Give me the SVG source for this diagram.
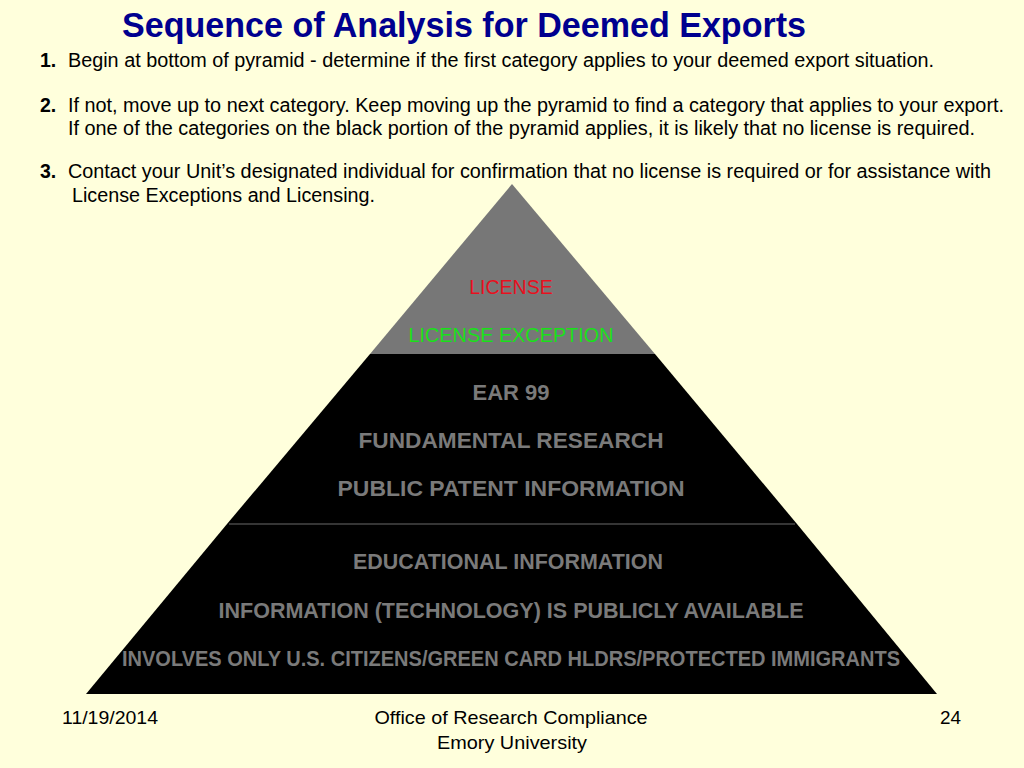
<svg xmlns="http://www.w3.org/2000/svg" width="1024" height="768" viewBox="0 0 1024 768">
<style>
text{font-family:"Liberation Sans",Arial,sans-serif}
.title{font-size:35px;font-weight:bold;fill:#00008f}
.body{font-size:19.5px;fill:#000}
.num{font-weight:bold}
.tier{font-size:22px;font-weight:bold;fill:#7a7a7a;text-anchor:middle}
.top{font-size:19.5px;text-anchor:middle}
.foot{font-size:19px;fill:#000}
</style>
<rect width="1024" height="768" fill="#ffffdc"/>
<g id="title">
<text class="title" x="122" y="37" textLength="684" lengthAdjust="spacingAndGlyphs">Sequence of Analysis for Deemed Exports</text>
</g>
<g id="instructions">
<text class="body" x="40" y="67"><tspan class="num">1.</tspan></text>
<text class="body" x="68" y="67" textLength="866" lengthAdjust="spacingAndGlyphs">Begin at bottom of pyramid - determine if the first category applies to your deemed export situation.</text>
<text class="body" x="40" y="112"><tspan class="num">2.</tspan></text>
<text class="body" x="68" y="112" textLength="936" lengthAdjust="spacingAndGlyphs">If not, move up to next category. Keep moving up the pyramid to find a category that applies to your export.</text>
<text class="body" x="68" y="135" textLength="907" lengthAdjust="spacingAndGlyphs">If one of the categories on the black portion of the pyramid applies, it is likely that no license is required.</text>
<text class="body" x="40" y="178"><tspan class="num">3.</tspan></text>
<text class="body" x="68" y="178" textLength="923" lengthAdjust="spacingAndGlyphs">Contact your Unit’s designated individual for confirmation that no license is required or for assistance with</text>
<text class="body" x="72" y="202" textLength="303" lengthAdjust="spacingAndGlyphs">License Exceptions and Licensing.</text>
</g>
<g id="pyramid-top">
<polygon points="512,184 370,354 655,354" fill="#777777"/>
<text class="top" x="511" y="294" fill="#e8101e">LICENSE</text>
<text class="top" x="511" y="342" fill="#19e019" textLength="205" lengthAdjust="spacingAndGlyphs">LICENSE EXCEPTION</text>
</g>
<g id="pyramid-middle">
<polygon points="370,354 655,354 797,524 227,524" fill="#000"/>
<text class="tier" x="511" y="400">EAR 99</text>
<text class="tier" x="511" y="448" textLength="305" lengthAdjust="spacingAndGlyphs">FUNDAMENTAL RESEARCH</text>
<text class="tier" x="511" y="496" textLength="347" lengthAdjust="spacingAndGlyphs">PUBLIC PATENT INFORMATION</text>
</g>
<g id="pyramid-bottom">
<polygon points="227,524 797,524 937,694 86,694" fill="#000"/>
<text class="tier" x="508" y="569" textLength="310" lengthAdjust="spacingAndGlyphs">EDUCATIONAL INFORMATION</text>
<text class="tier" x="511" y="618" textLength="585" lengthAdjust="spacingAndGlyphs">INFORMATION (TECHNOLOGY) IS PUBLICLY AVAILABLE</text>
<text class="tier" x="511" y="666" textLength="778" lengthAdjust="spacingAndGlyphs">INVOLVES ONLY U.S. CITIZENS/GREEN CARD HLDRS/PROTECTED IMMIGRANTS</text>
</g>
<g id="connectors">
<line x1="229" y1="524" x2="795" y2="524" stroke="#6a6a6a" stroke-width="1.2"/>
</g>
<g id="footer">
<text class="foot" x="62" y="724" textLength="96" lengthAdjust="spacingAndGlyphs">11/19/2014</text>
<text class="foot" x="511" y="724" text-anchor="middle" textLength="273" lengthAdjust="spacingAndGlyphs">Office of Research Compliance</text>
<text class="foot" x="512" y="749" text-anchor="middle" textLength="150" lengthAdjust="spacingAndGlyphs">Emory University</text>
<text class="foot" x="940" y="724" textLength="21" lengthAdjust="spacingAndGlyphs">24</text>
</g>
</svg>
